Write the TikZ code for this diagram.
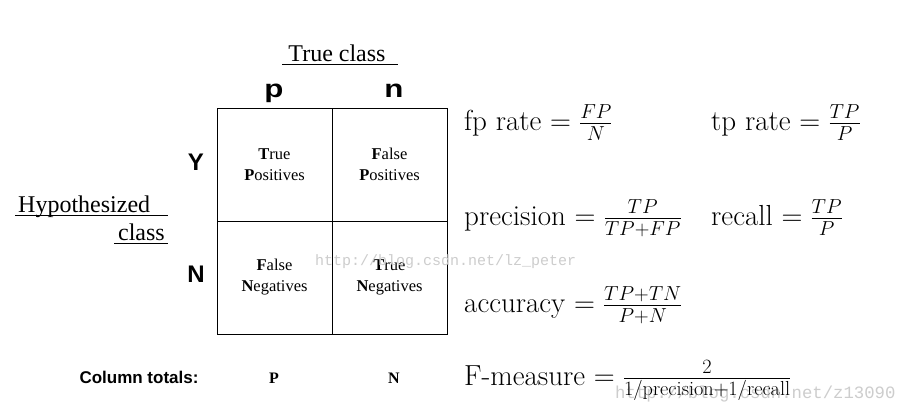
\RequirePackage{fix-cm}
\documentclass[tikz,border=0pt]{standalone}
\usepackage{fontspec}
\newfontfamily\tnr{Liberation Serif}
\newfontfamily\hel{Liberation Sans}
\newfontfamily\mono{Liberation Mono}
\definecolor{wm}{RGB}{205,205,205}
\begin{document}
\begin{tikzpicture}[x=1pt,y=-1pt,
  cell/.style={draw, line width=0.8pt, minimum width=115pt, minimum height=113pt,
    inner sep=0pt, align=center, font=\tnr\fontsize{16.5}{21}\selectfont},
  serifbig/.style={inner sep=0pt, font=\tnr\fontsize{24}{28}\selectfont},
  classlbl/.style={inner sep=0pt, font=\hel\bfseries\fontsize{25}{28}\selectfont, xscale=1.25},
  rowlbl/.style={inner sep=0pt, font=\hel\bfseries\fontsize{24}{28}\selectfont},
  total/.style={inner sep=0pt, font=\tnr\bfseries\fontsize{16}{18}\selectfont},
  formula/.style={inner sep=0pt, anchor=base west, font=\fontsize{29}{33}\selectfont},
  watermark/.style={inner sep=0pt, anchor=base west, text=wm}]
\useasboundingbox[fill=white] (0,0) rectangle (907,412);

% column header
\node[serifbig, anchor=base] (tc) at (337,62) {True class};
\draw[line width=0.8pt] (282,64.5) -- (398,64.5);
\node[classlbl, anchor=base] (cp) at (274,97) {p};
\node[classlbl, anchor=base] (cn) at (394,97) {n};

% row header
\node[serifbig, anchor=base west] (hyp) at (18,212) {Hypothesized};
\node[serifbig, anchor=base east] (hcl) at (165,240) {class};
\draw[line width=0.8pt] (15,215.5) -- (168,215.5);
\draw[line width=0.8pt] (114,243.5) -- (168,243.5);
\node[rowlbl, anchor=base] (ry) at (196,170) {Y};
\node[rowlbl, anchor=base] (rn) at (196,282) {N};

% confusion matrix
\node[cell] (tp) at (274.5,164.5) {\textbf{T}rue\\\textbf{P}ositives};
\node[cell] (fp) at (389.5,164.5) {\textbf{F}alse\\\textbf{P}ositives};
\node[cell] (fn) at (274.5,277.5) {\textbf{F}alse\\\textbf{N}egatives};
\node[cell] (tn) at (389.5,277.5) {\textbf{T}rue\\\textbf{N}egatives};

% watermark 1
\node[watermark, font=\mono\fontsize{15}{17}\selectfont] (wm1) at (315,265) {http://blog.csdn.net/lz\_peter};

% column totals
\node[inner sep=0pt, anchor=base, font=\hel\bfseries\fontsize{17}{19}\selectfont] (ct) at (139,383) {Column totals:};
\node[total, anchor=base] (totp) at (274,383) {P};
\node[total, anchor=base] (totn) at (394,383) {N};

% formulas
\node[formula] (fpr) at (464,130) {fp rate $=\frac{FP}{N}$};
\node[formula] (tpr) at (711,130) {tp rate $=\frac{TP}{P}$};
\node[formula] (prec) at (464,225) {precision $=\frac{TP}{TP+FP}$};
\node[formula] (rec) at (711,225) {recall $=\frac{TP}{P}$};
\node[formula] (acc) at (464,312) {accuracy $=\frac{TP+TN}{P+N}$};

% watermark 2 (behind F-measure)
\node[watermark, font=\mono\fontsize{17.3}{20}\selectfont] (wm2) at (615,398) {http://blog.csdn.net/z13090};
\node[formula] (fm) at (464,385) {F-measure $=\frac{2}{1/\mathrm{precision}+1/\mathrm{recall}}$};
\end{tikzpicture}
\end{document}
